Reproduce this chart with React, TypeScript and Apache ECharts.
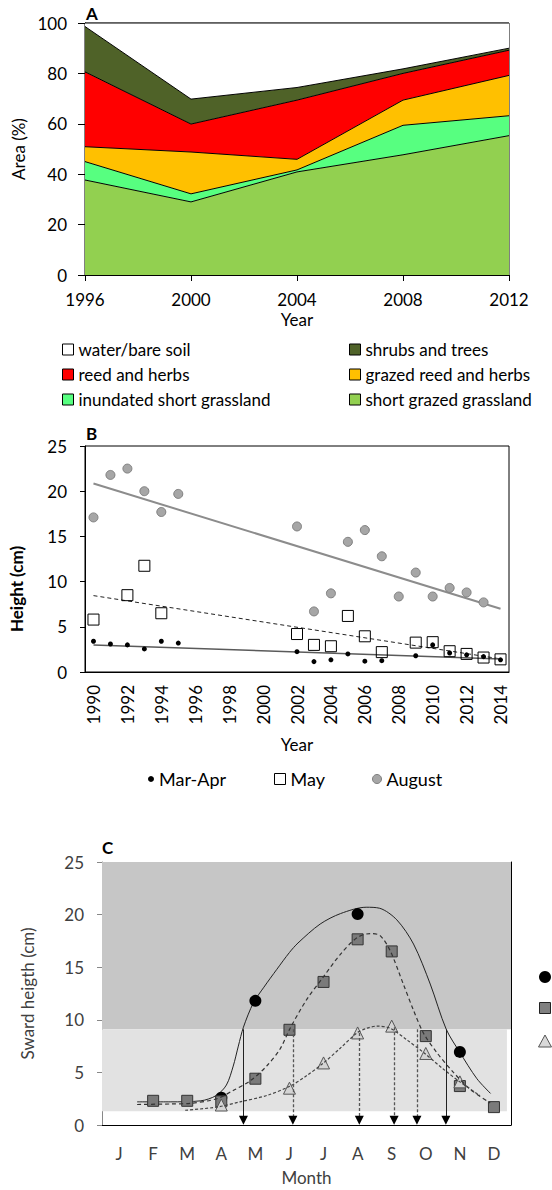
import React, { useEffect, useRef } from 'react';
import * as echarts from 'echarts';

// ---------- Panel A data ----------
const areaYears = ['1996', '2000', '2004', '2008', '2012'];
const shortGrazed = [37.7, 29.0, 40.9, 47.7, 55.3];
const inundated = [7.3, 3.2, 0.8, 11.7, 7.9];
const grazedReed = [5.9, 16.6, 4.2, 10.0, 16.0];
const reedHerbs = [29.7, 11.1, 23.5, 10.6, 10.0];
const shrubsTrees = [18.0, 9.9, 5.0, 1.8, 0.8];
const waterBare = [1.4, 30.2, 25.6, 18.2, 10.0];

// ---------- Panel B data ----------
const yearCats = ['1990', '1991', '1992', '1993', '1994', '1995', '1996', '1997', '1998', '1999', '2000', '2001', '2002',
  '2003', '2004', '2005', '2006', '2007', '2008', '2009', '2010', '2011', '2012', '2013', '2014'];
const marAprYears = ['1990', '1991', '1992', '1993', '1994', '1995', '2002', '2003', '2004', '2005', '2006', '2007', '2009', '2010', '2011', '2012', '2013', '2014'];
const marAprVals = [3.4, 3.1, 3.0, 2.55, 3.4, 3.2, 2.25, 1.15, 1.35, 2.0, 1.2, 1.25, 1.8, 3.0, 2.1, 1.9, 1.7, 1.35];
const mayYears = ['1990', '1992', '1993', '1994', '2002', '2003', '2004', '2005', '2006', '2007', '2009', '2010', '2011', '2012', '2013', '2014'];
const mayVals = [5.8, 8.5, 11.75, 6.5, 4.2, 3.0, 2.85, 6.2, 3.95, 2.2, 3.25, 3.3, 2.3, 2.0, 1.6, 1.4];
const augYears = ['1990', '1991', '1992', '1993', '1994', '1995', '2002', '2003', '2004', '2005', '2006', '2007', '2008', '2009', '2010', '2011', '2012', '2013'];
const augVals = [17.1, 21.8, 22.5, 20.0, 17.7, 19.7, 16.1, 6.7, 8.7, 14.4, 15.7, 12.8, 8.35, 11.0, 8.35, 9.3, 8.8, 7.7];
const trendYears = ['1990', '2014'];
const augTrend = [20.85, 7.0];
const mayTrend = [8.45, 1.45];
const marAprTrend = [3.0, 1.45];

// ---------- Panel C data ----------
const monthLabels = ['J', 'F', 'M', 'A', 'M', 'J', 'J', 'A', 'S', 'O', 'N', 'D'];
const circleX = [3.5, 4.5, 7.5, 10.5];
const circleVals = [2.6, 11.8, 20.05, 6.95];
const squareX = [1.5, 2.5, 3.5, 4.5, 5.5, 6.5, 7.5, 8.5, 9.5, 10.5, 11.5];
const squareVals = [2.3, 2.3, 2.25, 4.4, 9.05, 13.6, 17.65, 16.5, 8.45, 3.7, 1.7];
const triangleX = [3.5, 5.5, 6.5, 7.5, 8.5, 9.5, 10.5];
const triangleVals = [1.9, 3.5, 5.9, 8.75, 9.4, 6.8, 4.1];
const solidCurve = [[1.03, 2.2], [2.0, 2.2], [2.9, 2.3], [3.35, 2.8], [3.65, 3.8], [3.85, 5.6], [4.0, 7.5], [4.15, 9.3],
  [4.44, 11.6], [4.75, 13.1], [5.13, 14.8], [5.5, 16.4], [5.75, 17.3], [6.4, 19.1], [7.0, 20.1], [7.75, 20.7], [8.15, 20.6],
  [8.65, 19.5], [9.14, 17.2], [9.63, 13.4], [10.1, 9.1], [10.5, 6.9], [11.0, 4.4], [11.4, 3.0]];
const squareCurve = [[1.03, 1.95], [2.0, 2.0], [2.6, 2.06], [3.37, 2.5], [3.86, 3.3], [4.35, 4.2], [4.83, 5.6], [5.22, 7.2],
  [5.52, 9.2], [6.0, 11.9], [6.5, 14.1], [7.0, 16.25], [7.48, 17.8], [7.87, 18.2], [8.16, 18.0], [8.45, 16.6], [8.84, 13.4],
  [9.14, 10.9], [9.43, 8.75], [9.82, 6.9], [10.31, 5.0], [10.8, 3.4], [11.39, 2.1]];
const triangleCurve = [[2.44, 1.4], [3.37, 1.7], [4.05, 2.2], [4.83, 2.8], [5.52, 3.7], [6.01, 4.7], [6.5, 5.9], [6.99, 7.3],
  [7.48, 8.75], [7.77, 9.2], [8.06, 9.4], [8.45, 9.2], [8.94, 8.1], [9.43, 6.9], [10.02, 5.3], [10.5, 4.1], [11.09, 2.8]];
const arrowX = [4.15, 5.6, 7.55, 8.57, 9.24, 10.09];
const arrowTop = [9.1, 9.1, 8.75, 9.3, 9.1, 9.1];
const arrowSolid = [true, false, false, false, false, true];
const arrowEnd = 0.45;
const bandUpper = 9.1;
const bandLower = 1.3;
const bandTop = 25;
const lightBandEnd = 11.88;

const FONT = 'Lato';

export default function App() {
  const ref = useRef<HTMLDivElement>(null);
  useEffect(() => {
    if (!ref.current) return;
    const chart = echarts.init(ref.current, undefined, { renderer: 'svg' });
    const txt = { fontFamily: FONT, fontSize: 17, color: '#000' };
    const gtxt = { fontFamily: FONT, fontSize: 17, color: '#404040' };

    const areaSeries = (name: string, data: number[], color: string) => ({
      type: 'line', name, data, stack: 'total', xAxisIndex: 0, yAxisIndex: 0, symbol: 'none',
      lineStyle: { color: '#000', width: 1 }, areaStyle: { color, opacity: 1 }, itemStyle: { color },
      silent: true,
    });
    const legItem = (name: string, color: string) => ({ name, itemStyle: { color, borderColor: '#000', borderWidth: 1 } });

    const option: any = {
      animation: false,
      backgroundColor: '#fff',
      textStyle: { fontFamily: FONT },
      grid: [
        { left: 85, top: 23, width: 424, height: 252, show: true, borderColor: '#000', borderWidth: 1, backgroundColor: 'transparent' },
        { left: 85, top: 446, width: 424, height: 226, show: true, borderColor: '#000', borderWidth: 1, backgroundColor: 'transparent' },
        { left: 102, top: 862, width: 409, height: 263 },
      ],
      xAxis: [
        {
          gridIndex: 0, type: 'category', data: areaYears, boundaryGap: false,
          axisLine: { lineStyle: { color: '#000', width: 1 } },
          axisTick: { length: 6, lineStyle: { color: '#000' } },
          axisLabel: { ...txt, margin: 16 },
          name: 'Year', nameLocation: 'middle', nameGap: 36, nameTextStyle: { ...txt },
          splitLine: { show: false },
        },
        {
          gridIndex: 1, type: 'category', data: yearCats, boundaryGap: true,
          axisLine: { lineStyle: { color: '#000', width: 1 } },
          axisTick: { length: 7, interval: 0, lineStyle: { color: '#000' } },
          axisLabel: { ...txt, interval: 1, rotate: 90, margin: 13 },
          name: 'Year', nameLocation: 'middle', nameGap: 64, nameTextStyle: { ...txt },
          splitLine: { show: false },
        },
        {
          gridIndex: 2, type: 'category', data: monthLabels, boundaryGap: true,
          axisLine: { lineStyle: { color: '#000', width: 1 } },
          axisTick: { length: 6, interval: 0, lineStyle: { color: '#000' } },
          axisLabel: { ...gtxt, interval: 0, margin: 20 },
          name: 'Month', nameLocation: 'middle', nameGap: 44, nameTextStyle: { ...gtxt },
          splitLine: { show: false },
        },
        { gridIndex: 2, type: 'value', min: 0, max: 12, show: false },
      ],
      yAxis: [
        {
          gridIndex: 0, type: 'value', min: 0, max: 100, interval: 20,
          axisLine: { show: true, lineStyle: { color: '#000' } },
          axisTick: { show: true, length: 7, lineStyle: { color: '#000' } },
          axisLabel: { ...txt, margin: 18 },
          splitLine: { show: false },
          name: 'Area (%)', nameLocation: 'middle', nameGap: 57, nameTextStyle: { ...txt },
        },
        {
          gridIndex: 1, type: 'value', min: 0, max: 25, interval: 5,
          axisLine: { show: true, lineStyle: { color: '#000' } },
          axisTick: { show: true, length: 5, lineStyle: { color: '#000' } },
          axisLabel: { ...txt, margin: 18 },
          splitLine: { show: false },
        },
        {
          gridIndex: 2, type: 'value', min: 0, max: 25, interval: 5,
          axisLine: { show: true, lineStyle: { color: '#888' } },
          axisTick: { show: true, length: 5, lineStyle: { color: '#888' } },
          axisLabel: { ...gtxt, margin: 18 },
          splitLine: { show: false },
          name: 'Sward heigth (cm)', nameLocation: 'middle', nameGap: 66, nameTextStyle: { ...gtxt },
        },
        {
          gridIndex: 2, type: 'value', min: 0, max: 25, position: 'right',
          axisLine: { show: true, lineStyle: { color: '#000' } },
          axisTick: { show: false }, axisLabel: { show: false }, splitLine: { show: false },
        },
      ],
      legend: [
        {
          left: 57, top: 336, orient: 'vertical', icon: 'rect', itemWidth: 11, itemHeight: 11, itemGap: 8,
          textStyle: { ...txt }, selectedMode: false,
          data: [legItem('water/bare soil', '#fff'), legItem('reed and herbs', '#ff0000'), legItem('inundated short grassland', '#57ff80')],
        },
        {
          left: 344, top: 336, orient: 'vertical', icon: 'rect', itemWidth: 11, itemHeight: 11, itemGap: 8,
          textStyle: { ...txt }, selectedMode: false,
          data: [legItem('shrubs and trees', '#4f6228'), legItem('grazed reed and herbs', '#ffc000'), legItem('short grazed grassland', '#92d050')],
        },
        {
          left: 143, top: 765, icon: 'circle', itemWidth: 6, itemHeight: 6, textStyle: { ...txt, fontSize: 18 }, selectedMode: false,
          data: [{ name: 'Mar-Apr', itemStyle: { color: '#000' } }],
        },
        {
          left: 269, top: 765, icon: 'rect', itemWidth: 11, itemHeight: 11, textStyle: { ...txt, fontSize: 18 }, selectedMode: false,
          data: [{ name: 'May', itemStyle: { color: '#fff', borderColor: '#000', borderWidth: 1 } }],
        },
        {
          left: 367, top: 765, icon: 'circle', itemWidth: 9, itemHeight: 9, textStyle: { ...txt, fontSize: 18 }, selectedMode: false,
          data: [{ name: 'August', itemStyle: { color: '#a6a6a6', borderColor: '#7f7f7f', borderWidth: 1 } }],
        },
      ],
      graphic: [
        { type: 'text', left: 86, top: 5, style: { text: 'A', font: `bold 17px ${FONT}`, fill: '#000' } },
        { type: 'text', left: 86, top: 425, style: { text: 'B', font: `bold 17px ${FONT}`, fill: '#000' } },
        { type: 'text', left: 102, top: 839, style: { text: 'C', font: `bold 17px ${FONT}`, fill: '#000' } },
        {
          type: 'text', x: 16, y: 589, rotation: Math.PI / 2,
          style: { text: 'Height (cm)', font: `bold 17px ${FONT}`, fill: '#000', align: 'center', verticalAlign: 'middle' },
        },
        { type: 'circle', shape: { cx: 545, cy: 977, r: 6 }, style: { fill: '#000' } },
        { type: 'rect', shape: { x: 539.5, y: 1002.5, width: 11, height: 11 }, style: { fill: '#808080', stroke: '#222', lineWidth: 1 } },
        { type: 'polygon', shape: { points: [[545, 1035], [551.5, 1047], [538.5, 1047]] }, style: { fill: '#d9d9d9', stroke: '#555', lineWidth: 1 } },
      ],
      series: [
        areaSeries('short grazed grassland', shortGrazed, '#92d050'),
        areaSeries('inundated short grassland', inundated, '#57ff80'),
        areaSeries('grazed reed and herbs', grazedReed, '#ffc000'),
        areaSeries('reed and herbs', reedHerbs, '#ff0000'),
        areaSeries('shrubs and trees', shrubsTrees, '#4f6228'),
        areaSeries('water/bare soil', waterBare, '#ffffff'),

        // Panel B trends
        {
          type: 'line', name: 'augTrend', xAxisIndex: 1, yAxisIndex: 1, symbol: 'none', silent: true, z: 2,
          data: trendYears.map((y, i) => [y, augTrend[i]]), lineStyle: { color: '#8c8c8c', width: 2 },
        },
        {
          type: 'line', name: 'mayTrend', xAxisIndex: 1, yAxisIndex: 1, symbol: 'none', silent: true, z: 2,
          data: trendYears.map((y, i) => [y, mayTrend[i]]), lineStyle: { color: '#222', width: 1, type: [4, 3] },
        },
        {
          type: 'line', name: 'marAprTrend', xAxisIndex: 1, yAxisIndex: 1, symbol: 'none', silent: true, z: 2,
          data: trendYears.map((y, i) => [y, marAprTrend[i]]), lineStyle: { color: '#5a5a5a', width: 1.5 },
        },
        {
          type: 'scatter', name: 'August', xAxisIndex: 1, yAxisIndex: 1, symbol: 'circle', symbolSize: 9, z: 3,
          data: augYears.map((y, i) => [y, augVals[i]]),
          itemStyle: { color: '#a6a6a6', borderColor: '#7f7f7f', borderWidth: 1, opacity: 1 },
        },
        {
          type: 'scatter', name: 'May', xAxisIndex: 1, yAxisIndex: 1, symbol: 'rect', symbolSize: 11, z: 3,
          data: mayYears.map((y, i) => [y, mayVals[i]]),
          itemStyle: { color: 'rgba(255,255,255,0)', borderColor: '#000', borderWidth: 1, opacity: 1 },
        },
        {
          type: 'scatter', name: 'Mar-Apr', xAxisIndex: 1, yAxisIndex: 1, symbol: 'circle', symbolSize: 5, z: 4,
          data: marAprYears.map((y, i) => [y, marAprVals[i]]), itemStyle: { color: '#000', opacity: 1 },
        },

        // Panel C
        {
          type: 'line', name: 'solidCurve', xAxisIndex: 3, yAxisIndex: 2, symbol: 'none', silent: true, z: 2, smooth: 0.3,
          data: solidCurve, lineStyle: { color: '#222', width: 1 },
          markArea: {
            silent: true,
            data: [
              [{ xAxis: 0, yAxis: bandUpper, itemStyle: { color: '#c6c6c6' } }, { xAxis: 12, yAxis: bandTop }],
              [{ xAxis: 0, yAxis: bandLower, itemStyle: { color: '#e2e2e2' } }, { xAxis: lightBandEnd, yAxis: bandUpper }],
            ],
          },
          markLine: {
            silent: true, symbol: ['none', 'none'], label: { show: false },
            data: arrowX.map((x, i) => [
              { coord: [x, arrowTop[i]], lineStyle: arrowSolid[i] ? { color: '#222', width: 1, type: 'solid' } : { color: '#555', width: 1.3, type: [3, 2] } },
              { coord: [x, arrowEnd] },
            ]),
          },
        },
        {
          type: 'scatter', name: 'arrowHeads', xAxisIndex: 3, yAxisIndex: 2, symbol: 'triangle', symbolRotate: 180,
          symbolSize: [9, 9], z: 6, silent: true,
          data: arrowX.map((x) => [x, arrowEnd]), itemStyle: { color: '#000', opacity: 1 },
        },
        {
          type: 'scatter', name: 'circles', xAxisIndex: 3, yAxisIndex: 2, symbol: 'circle', symbolSize: 12, z: 3,
          data: circleX.map((x, i) => [x, circleVals[i]]), itemStyle: { color: '#000', opacity: 1 },
        },
        {
          type: 'scatter', name: 'squares', xAxisIndex: 3, yAxisIndex: 2, symbol: 'rect', symbolSize: 11, z: 3,
          data: squareX.map((x, i) => [x, squareVals[i]]),
          itemStyle: { color: '#7a7a7a', borderColor: '#333', borderWidth: 1, opacity: 1 },
        },
        {
          type: 'scatter', name: 'triangles', xAxisIndex: 3, yAxisIndex: 2, symbol: 'triangle', symbolSize: 12, z: 3,
          data: triangleX.map((x, i) => [x, triangleVals[i]]),
          itemStyle: { color: '#d4d4d4', borderColor: '#555', borderWidth: 1, opacity: 1 },
        },
        {
          type: 'line', name: 'squareCurve', xAxisIndex: 3, yAxisIndex: 2, symbol: 'none', silent: true, z: 4, smooth: 0.3,
          data: squareCurve, lineStyle: { color: '#333', width: 1.2, type: [4, 3] },
        },
        {
          type: 'line', name: 'triangleCurve', xAxisIndex: 3, yAxisIndex: 2, symbol: 'none', silent: true, z: 4, smooth: 0.3,
          data: triangleCurve, lineStyle: { color: '#444', width: 1.2, type: [3, 2] },
        },
      ],
    };
    chart.setOption(option);
    return () => chart.dispose();
  }, []);
  return <div ref={ref} style={{ position: 'absolute', left: 0, top: 0, width: 552, height: 1190 }} />;
}
